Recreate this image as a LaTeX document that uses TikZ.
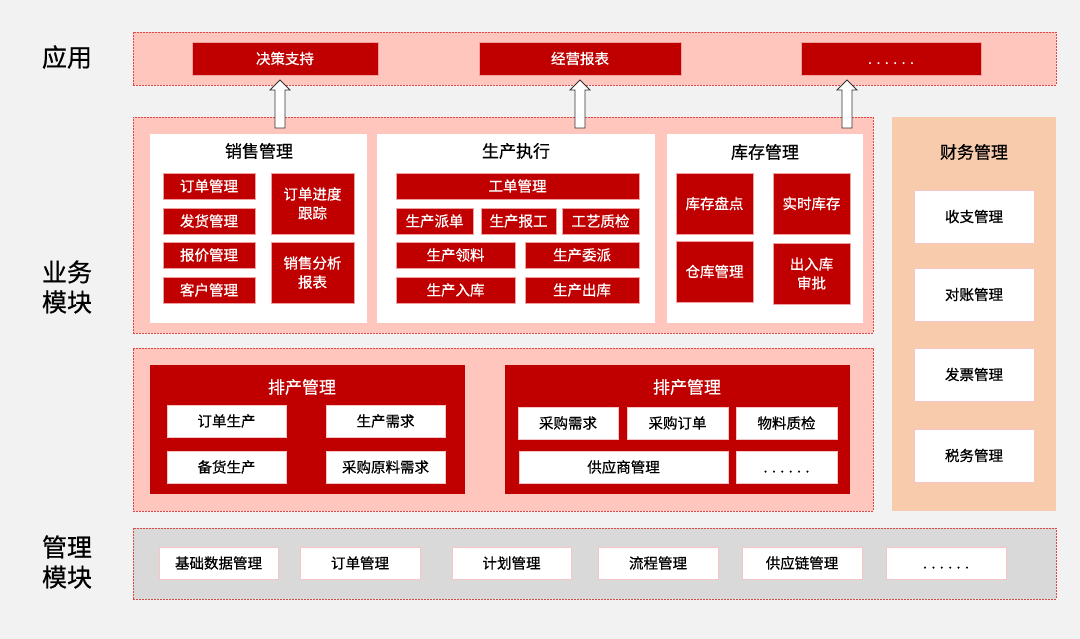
\documentclass[tikz,border=0pt]{standalone}
\usepackage{fontspec}
\setmainfont{Noto Sans CJK SC}[FakeBold=0.6]
\definecolor{bgc}{HTML}{F2F2F2}
\definecolor{pinkc}{HTML}{FFC6BE}
\definecolor{dredc}{HTML}{C00000}
\definecolor{dashc}{HTML}{E04848}
\definecolor{peachc}{HTML}{F8CBAD}
\definecolor{grayc}{HTML}{D9D9D9}
\definecolor{edgec}{HTML}{F0A0A0}
\newcommand\bx[7]{\node[#2, minimum width=#5pt, minimum height=#6pt] (#1) at ({#3+#5/2},{#4+#6/2}) {#7};}
\newcommand\sixdots{\vphantom{理}{\addfontfeature{LetterSpace=30}......}}
\begin{document}
\begin{tikzpicture}[x=1pt,y=-1pt,
  every node/.style={inner sep=0pt, outer sep=0pt},
  band/.style={fill=pinkc, draw=dashc, line width=0.7pt, dash pattern=on 2pt off 1pt},
  mband/.style={fill=grayc, draw=dashc, line width=0.7pt, dash pattern=on 2pt off 1pt},
  panel/.style={fill=white},
  fpanel/.style={fill=peachc},
  rpanel/.style={fill=dredc},
  redbox/.style={fill=dredc, draw=edgec, line width=0.5pt, text=white, align=center, font=\fontsize{14.5}{19}\selectfont},
  wbox/.style={fill=white, draw=edgec!60, line width=0.5pt, text=black, align=center, font=\fontsize{14.5}{19}\selectfont},
  title/.style={font=\fontsize{17}{20}\selectfont, text=black},
  wtitle/.style={font=\fontsize{17}{20}\selectfont, text=white},
  side/.style={font=\fontsize{25}{30}\selectfont, text=black, align=center},
  uparrow/.style={fill=white, draw=black!80, line width=0.8pt, line join=miter}
]
\fill[bgc] (0,0) rectangle (1080,639);
\useasboundingbox (0,0) rectangle (1080,639);

% side labels
\node[side] (lapp) at (67,57) {应用};
\node[side] (lbiz) at (67,287) {业务\\模块};
\node[side] (lmgt) at (67,562) {管理\\模块};

% application band
\bx{app}{band}{133}{32}{923}{53}{}
\bx{a1}{redbox}{192}{42}{186}{33}{决策支持}
\bx{a2}{redbox}{479}{42}{202}{33}{经营报表}
\bx{a3}{redbox}{801}{42}{180}{33}{\sixdots}

% business band 1
\bx{biz1}{band}{133}{117}{740}{216}{}
% sales
\bx{sales}{panel}{150}{134}{217}{189}{}
\node[title] (tsales) at (259,151) {销售管理};
\bx{s1}{redbox}{163}{173}{92}{26}{订单管理}
\bx{s2}{redbox}{163}{208}{92}{26}{发货管理}
\bx{s3}{redbox}{163}{242}{92}{26}{报价管理}
\bx{s4}{redbox}{163}{277}{92}{26}{客户管理}
\bx{s5}{redbox}{271}{173}{83}{61}{订单进度\\跟踪}
\bx{s6}{redbox}{271}{242}{83}{61}{销售分析\\报表}
% production
\bx{prod}{panel}{377}{134}{278}{189}{}
\node[title] (tprod) at (516,151) {生产执行};
\bx{p1}{redbox}{396}{173}{243}{26}{工单管理}
\bx{p2}{redbox}{396}{208}{77}{26}{生产派单}
\bx{p3}{redbox}{481}{208}{75}{26}{生产报工}
\bx{p4}{redbox}{562}{208}{77}{26}{工艺质检}
\bx{p5}{redbox}{396}{242}{119}{26}{生产领料}
\bx{p6}{redbox}{525}{242}{114}{26}{生产委派}
\bx{p7}{redbox}{396}{277}{119}{26}{生产入库}
\bx{p8}{redbox}{525}{277}{114}{26}{生产出库}
% inventory
\bx{inv}{panel}{667}{134}{196}{189}{}
\node[title] (tinv) at (765,152) {库存管理};
\bx{i1}{redbox}{676}{173}{77}{61}{库存盘点}
\bx{i2}{redbox}{773}{173}{77}{61}{实时库存}
\bx{i3}{redbox}{676}{241}{77}{61}{仓库管理}
\bx{i4}{redbox}{773}{243}{77}{61}{出入库\\审批}

% finance
\bx{fin}{fpanel}{892}{117}{164}{394}{}
\node[title] (tfin) at (974,152) {财务管理};
\bx{f1}{wbox}{914}{190}{120}{53}{收支管理}
\bx{f2}{wbox}{914}{268}{120}{53}{对账管理}
\bx{f3}{wbox}{914}{348}{120}{53}{发票管理}
\bx{f4}{wbox}{914}{429}{120}{53}{税务管理}

% business band 2
\bx{biz2}{band}{133}{348}{740}{163}{}
\bx{sch1}{rpanel}{150}{365}{315}{129}{}
\node[wtitle] (tsch1) at (302,387) {排产管理};
\bx{c1}{wbox}{167}{405}{119}{32}{订单生产}
\bx{c2}{wbox}{326}{405}{119}{32}{生产需求}
\bx{c3}{wbox}{167}{451}{119}{32}{备货生产}
\bx{c4}{wbox}{326}{451}{119}{32}{采购原料需求}
\bx{sch2}{rpanel}{505}{365}{345}{129}{}
\node[wtitle] (tsch2) at (687,387) {排产管理};
\bx{d1}{wbox}{518}{407}{100}{32}{采购需求}
\bx{d2}{wbox}{627}{407}{101}{32}{采购订单}
\bx{d3}{wbox}{736}{407}{101}{32}{物料质检}
\bx{d4}{wbox}{519}{451}{209}{32}{供应商管理}
\bx{d5}{wbox}{736}{451}{101}{32}{\sixdots}

% management band
\bx{mgt}{mband}{133}{528}{923}{71}{}
\bx{m1}{wbox}{159}{547}{119}{32}{基础数据管理}
\bx{m2}{wbox}{300}{547}{120}{32}{订单管理}
\bx{m3}{wbox}{452}{547}{119}{32}{计划管理}
\bx{m4}{wbox}{598}{547}{120}{32}{流程管理}
\bx{m5}{wbox}{742}{547}{120}{32}{供应链管理}
\bx{m6}{wbox}{886}{547}{120}{32}{\sixdots}

% up arrows from business band to applications
\foreach \n/\x in {1/280,2/580,3/847}{
  \coordinate (ar\n) at (\x,128);
  \draw[uparrow] (ar\n) ++(-5,0) -- ++(0,-38) -- ++(-5,0) -- ++(10,-10) -- ++(10,10) -- ++(-5,0) -- ++(0,38) -- cycle;
}
\end{tikzpicture}
\end{document}
